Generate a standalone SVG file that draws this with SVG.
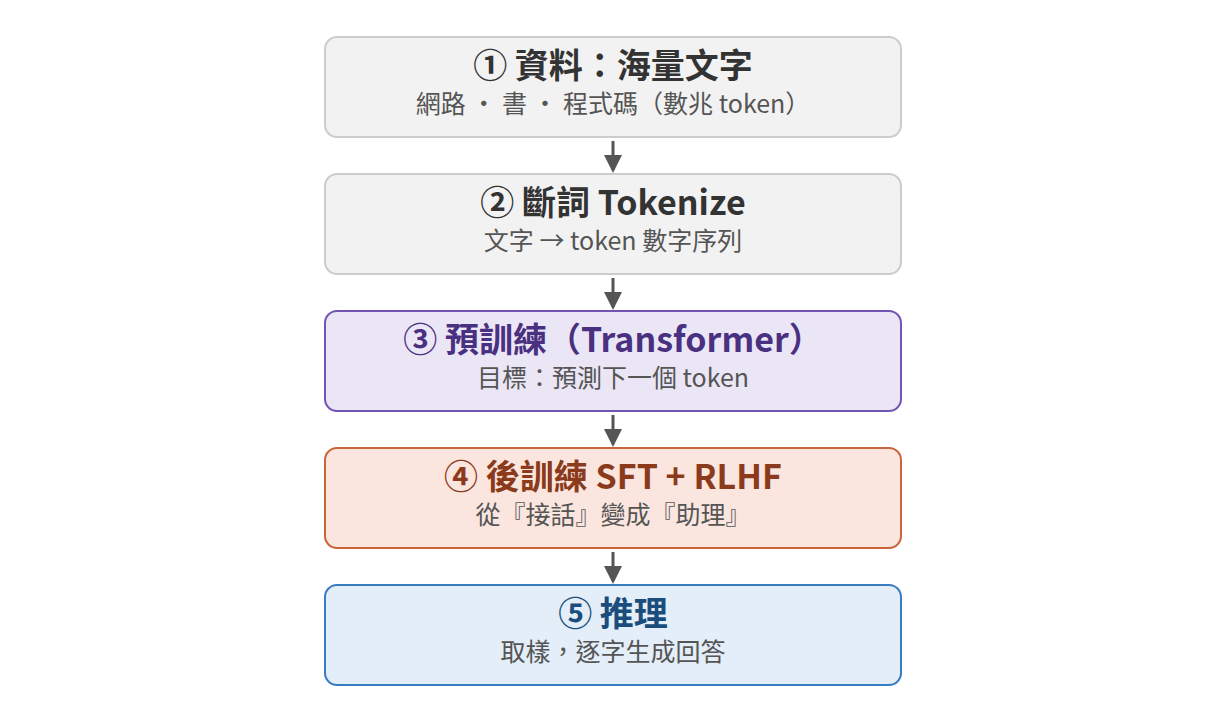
<svg xmlns="http://www.w3.org/2000/svg" width="1225" height="721" viewBox="0 0 1225 721">
<defs>
<marker id="ah" markerWidth="6" markerHeight="6" refX="5" refY="3" orient="auto" markerUnits="strokeWidth"><path d="M0,0 L6,3 L0,6 Z" fill="#555555"/></marker>
<style>
.t{font-family:"Noto Sans CJK TC","Noto Sans",sans-serif;font-weight:700;font-size:34px;text-anchor:middle}
.s{font-family:"Noto Sans CJK TC","Noto Sans",sans-serif;font-size:25px;fill:#555555;text-anchor:middle}
.b{stroke-width:2}
.g{fill:#f2f2f2;stroke:#cccccc}
.p{fill:#ebe6f6;stroke:#7254b4}
.o{fill:#fbe6df;stroke:#c8653a}
.u{fill:#e3eef8;stroke:#3a7cc0}
.c{stroke:#555555;stroke-width:3;fill:none}
</style>
</defs>
<rect width="1225" height="721" fill="#ffffff"/>
<g id="n1"><rect class="b g" x="325" y="37" width="576" height="100" rx="12"/><text class="t" x="613" y="78" fill="#333333">① 資料：海量文字</text><text class="s" x="613" y="113">網路 ・ 書 ・ 程式碼（數兆 token）</text></g>
<g id="n2"><rect class="b g" x="325" y="174" width="576" height="100" rx="12"/><text class="t" x="613" y="215" fill="#333333">② 斷詞 Tokenize</text><text class="s" x="613" y="250">文字 → token 數字序列</text></g>
<g id="n3"><rect class="b p" x="325" y="311" width="576" height="100" rx="12"/><text class="t" x="613" y="352" fill="#4a3080">③ 預訓練（Transformer）</text><text class="s" x="613" y="387">目標：預測下一個 token</text></g>
<g id="n4"><rect class="b o" x="325" y="448" width="576" height="100" rx="12"/><text class="t" x="613" y="489" fill="#8b3a1c">④ 後訓練 SFT + RLHF</text><text class="s" x="613" y="524">從『接話』變成『助理』</text></g>
<g id="n5"><rect class="b u" x="325" y="585" width="576" height="100" rx="12"/><text class="t" x="613" y="626" fill="#1a4d7c">⑤ 推理</text><text class="s" x="613" y="661">取樣，逐字生成回答</text></g>
<g id="connectors">
<line class="c" x1="613" y1="141" x2="613" y2="170" marker-end="url(#ah)"/>
<line class="c" x1="613" y1="278" x2="613" y2="307" marker-end="url(#ah)"/>
<line class="c" x1="613" y1="415" x2="613" y2="444" marker-end="url(#ah)"/>
<line class="c" x1="613" y1="552" x2="613" y2="581" marker-end="url(#ah)"/>
</g>
</svg>
